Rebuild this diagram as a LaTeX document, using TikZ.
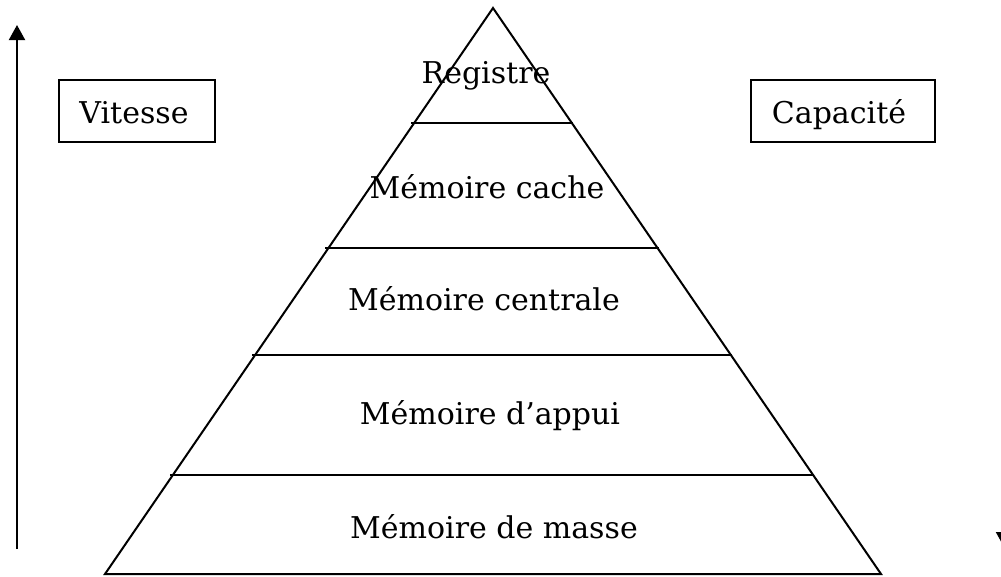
\documentclass[tikz,border=0pt]{standalone}
\usepackage{fontspec}
\setmainfont{DejaVu Serif}
\usetikzlibrary{arrows.meta,calc}
\tikzset{
  stroke/.style={line width=2pt, line cap=rect},
  label/.style={inner sep=0pt, font=\fontsize{30}{36}\selectfont, anchor=base},
  box/.style={draw, line width=2pt, minimum height=62pt, inner sep=0pt},
  arr/.style={line width=2pt, -{Triangle[length=15pt,width=16pt]}}
}
\begin{document}
\begin{tikzpicture}[x=1pt,y=-1pt]
\useasboundingbox (0,0) rectangle (1001,576);
\clip (0,0) rectangle (1001,576);
% pyramid
\coordinate (apex) at (493,8);
\coordinate (bl) at (105,574);
\coordinate (br) at (881,574);
\draw[stroke, line join=miter] (apex) -- (bl) -- (br) -- cycle;
\foreach \t/\n in {0.2032/a,0.4240/b,0.6131/c,0.8251/d}{
  \coordinate (l\n) at ($(apex)!\t!(bl)$);
  \coordinate (r\n) at ($(apex)!\t!(br)$);
  \draw[stroke] ($(l\n)+(-2,0)$) -- ($(r\n)+(0,0)$);
}
% level labels
\node[label] (reg) at (486,83) {Registre};
\node[label] (cache) at (487,198) {Mémoire cache};
\node[label] (centr) at (484,310) {Mémoire centrale};
\node[label] (appui) at (490,424) {Mémoire d’appui};
\node[label] (masse) at (494,538) {Mémoire de masse};
% side boxes
\node[box, minimum width=156pt] (vit) at (137,111) {};
\node[box, minimum width=184pt] (cap) at (843,111) {};
\node[label] (vittxt) at (134,123) {Vitesse};
\node[label] (captxt) at (839,123) {Capacité};
% arrows
\coordinate (vbot) at (17,549);
\coordinate (vtop) at (17,25);
\draw[arr] (vbot) -- (vtop);
\coordinate (ctop) at (1004,25);
\coordinate (cbot) at (1004,547);
\draw[arr] (ctop) -- (cbot);
\end{tikzpicture}
\end{document}
